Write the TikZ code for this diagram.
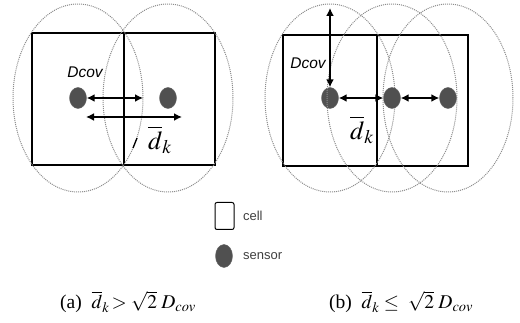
\documentclass[tikz,border=0pt]{standalone}
\usepackage{mathptmx}
\usepackage[no-math]{fontspec}
\setmainfont{Liberation Serif}
\newfontfamily\lblfont{Liberation Sans}
\usetikzlibrary{positioning,arrows.meta,shapes.geometric}
\definecolor{covgray}{HTML}{8C8C8C}
\definecolor{sensgray}{HTML}{505050}

\begin{document}
\begin{tikzpicture}[x=1pt,y=-1pt,
  cell/.style={draw=black,line width=1.3pt},
  cover/.style={draw=covgray,densely dotted,line width=1pt},
  sensor/.style={ellipse,fill=sensgray,draw=black!60,minimum width=17pt,minimum height=21pt,inner sep=0pt},
  dist/.style={{Latex[length=8pt,width=8pt]}-{Latex[length=8pt,width=8pt]},line width=1.7pt},
  lbl/.style={font=\lblfont\itshape\fontsize{15.5}{16}\selectfont},
  dk/.style={font=\fontsize{26}{28}\selectfont},
  keytxt/.style={font=\lblfont\fontsize{13}{14}\selectfont,text=black!75},
  captxt/.style={font=\fontsize{19.5}{21}\selectfont}]
  \useasboundingbox (0,0) rectangle (520,323);
  \def\rx{65pt}\def\ry{94pt}
  % (a)
  \draw[cell] (32,33) rectangle (215,165);
  \draw[cell] (124,33) -- (124,165);
  \node[sensor] (a1) at (78,98) {};
  \node[sensor] (a2) at (168,98) {};
  \foreach \s in {a1,a2}
    \draw[cover] (\s) ellipse [x radius=\rx,y radius=\ry];
  \coordinate (ua) at (143,98);
  \coordinate (la) at (86,117);
  \coordinate (lb) at (182,117);
  \draw[dist] (a1) -- (ua);
  \draw[dist] (la) -- (lb);
  \node[lbl] (dcova) at (85,72) {Dcov};
  \node[dk] (dka) at (160,140) {$\overline{d}_k$};
  \draw[line width=1.3pt] (133,148) -- (137,138);
  % (b)
  \draw[cell] (283,35) rectangle (468,166);
  \draw[cell] (377,35) -- (377,166);
  \foreach \n/\x in {b1/330,b2/392,b3/448}{
    \node[sensor] (\n) at (\x,98) {};
    \draw[cover] (\n) ellipse [x radius=\rx,y radius=\ry];
  }
  \coordinate (btop) at (330,8);
  \draw[dist] (b1) -- (btop);
  \draw[dist] (b1) -- (b2);
  \draw[dist] (b2) -- (b3);
  \node[lbl] (dcovb) at (308,63) {Dcov};
  \node[dk] (dkb) at (362,130) {$\overline{d}_k$};
  % legend
  \node[draw,rounded corners=2pt,line width=1pt,minimum width=19pt,minimum height=27pt] (cellkey) at (224.5,216) {};
  \node[keytxt,right=5pt of cellkey] (celltxt) {cell};
  \node[sensor,minimum height=23pt] (senskey) at (224,256) {};
  \node[keytxt,right=7pt of senskey] (senstxt) {sensor};
  % captions
  \node[captxt] (capa) at (128,302) {(a)~~$\overline{d}_k\!>\sqrt{2}\;D_{cov}$};
  \node[captxt] (capb) at (401,302) {(b)~~$\overline{d}_k\le\ \sqrt{2}\;D_{cov}$};
\end{tikzpicture}
\end{document}
